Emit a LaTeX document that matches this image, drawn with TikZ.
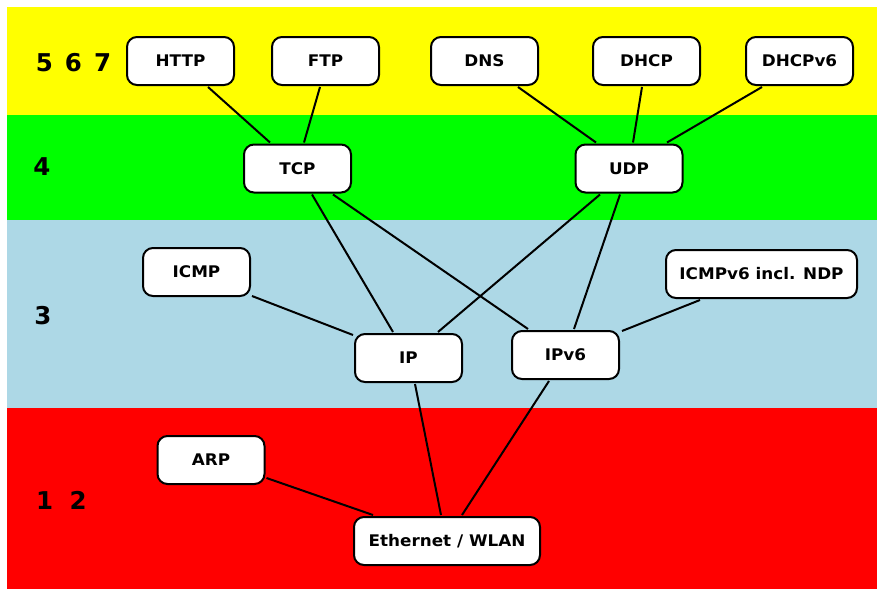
\documentclass[tikz,border=0pt]{standalone}
\usepackage{fontspec}
\newfontfamily\lbl[FakeStretch=1.05]{DejaVu Sans}
\newfontfamily\digfont{DejaVu Sans}
\definecolor{bandyellow}{RGB}{255,255,0}
\definecolor{bandgreen}{RGB}{0,255,0}
\definecolor{bandblue}{RGB}{173,216,230}
\definecolor{bandred}{RGB}{255,0,0}
\begin{document}
\begin{tikzpicture}[x=1pt,y=-1pt,
  proto/.style={draw=black, line width=2pt, rounded corners=10pt, fill=white,
    minimum width=107pt, minimum height=48pt, inner sep=0pt,
    font=\lbl\bfseries\fontsize{16}{19}\selectfont},
  layer/.style={font=\digfont\bfseries\fontsize{24.5}{28}\selectfont, inner sep=0pt},
  link/.style={line width=2pt}]
\useasboundingbox (0,0) rectangle (877,589);
\fill[white] (0,0) rectangle (877,589);
\fill[bandyellow] (7,7) rectangle (877,115);
\fill[bandgreen] (7,115) rectangle (877,220);
\fill[bandblue] (7,220) rectangle (877,408);
\fill[bandred] (7,408) rectangle (877,589);
% layer numbers
\node[layer] (l567) at (73.5,63) {5\hspace{12pt}6\hspace{12pt}7};
\node[layer] (l4) at (42,167) {4};
\node[layer] (l3) at (43,316) {3};
\node[layer] (l12) at (61.5,500) {1\hspace{16.5pt}2};
% nodes
\node[proto] (http) at (180.5,61) {HTTP};
\node[proto] (ftp) at (325.5,61) {FTP};
\node[proto] (dns) at (484.5,61) {DNS};
\node[proto] (dhcp) at (646.5,61) {DHCP};
\node[proto] (dhcp6) at (799.5,61) {DHCPv6};
\node[proto] (tcp) at (297.5,168.5) {TCP};
\node[proto] (udp) at (629,168.5) {UDP};
\node[proto] (icmp) at (196.5,272) {ICMP};
\node[proto, minimum width=191pt] (icmp6) at (761.5,274) {ICMPv6 incl. NDP};
\node[proto] (ip) at (408.5,358) {IP};
\node[proto] (ip6) at (565.5,355) {IPv6};
\node[proto] (arp) at (211,460) {ARP};
\node[proto, minimum width=186pt] (eth) at (447,541) {Ethernet / WLAN};
% links
\draw[link] ([xshift=27.5pt,yshift=-1pt]http.south) -- ([xshift=-27.5pt,yshift=1pt]tcp.north);
\draw[link] ([xshift=-5.5pt,yshift=-1pt]ftp.south) -- ([xshift=6.5pt,yshift=1pt]tcp.north);
\draw[link] ([xshift=33.5pt,yshift=-1pt]dns.south) -- ([xshift=-33pt,yshift=1pt]udp.north);
\draw[link] ([xshift=-4.5pt,yshift=-1pt]dhcp.south) -- ([xshift=4pt,yshift=1pt]udp.north);
\draw[link] ([xshift=-37.5pt,yshift=-1pt]dhcp6.south) -- ([xshift=38pt,yshift=1pt]udp.north);
\draw[link] ([xshift=14.5pt,yshift=-1pt]tcp.south) -- ([xshift=-15.5pt,yshift=1pt]ip.north);
\draw[link] ([xshift=35.5pt,yshift=-1pt]tcp.south) -- ([xshift=-37.5pt,yshift=1pt]ip6.north);
\draw[link] ([xshift=-29pt,yshift=-1pt]udp.south) -- ([xshift=29.5pt,yshift=1pt]ip.north);
\draw[link] ([xshift=-9pt,yshift=-1pt]udp.south) -- ([xshift=8.5pt,yshift=1pt]ip6.north);
\draw[link] ([xshift=1pt,yshift=1pt]icmp.south east) -- ([xshift=-1pt,yshift=-2pt]ip.north west);
\draw[link] ([xshift=-61.5pt,yshift=-1pt]icmp6.south) -- ([xshift=2pt,yshift=-1pt]ip6.north east);
\draw[link] ([xshift=6.5pt,yshift=-1pt]ip.south) -- ([xshift=-6pt,yshift=1pt]eth.north);
\draw[link] ([xshift=-16.5pt,yshift=-1pt]ip6.south) -- ([xshift=15pt,yshift=1pt]eth.north);
\draw[link] ([xshift=1pt,yshift=-18pt]arp.east) -- ([xshift=-74pt,yshift=1pt]eth.north);
\end{tikzpicture}
\end{document}
